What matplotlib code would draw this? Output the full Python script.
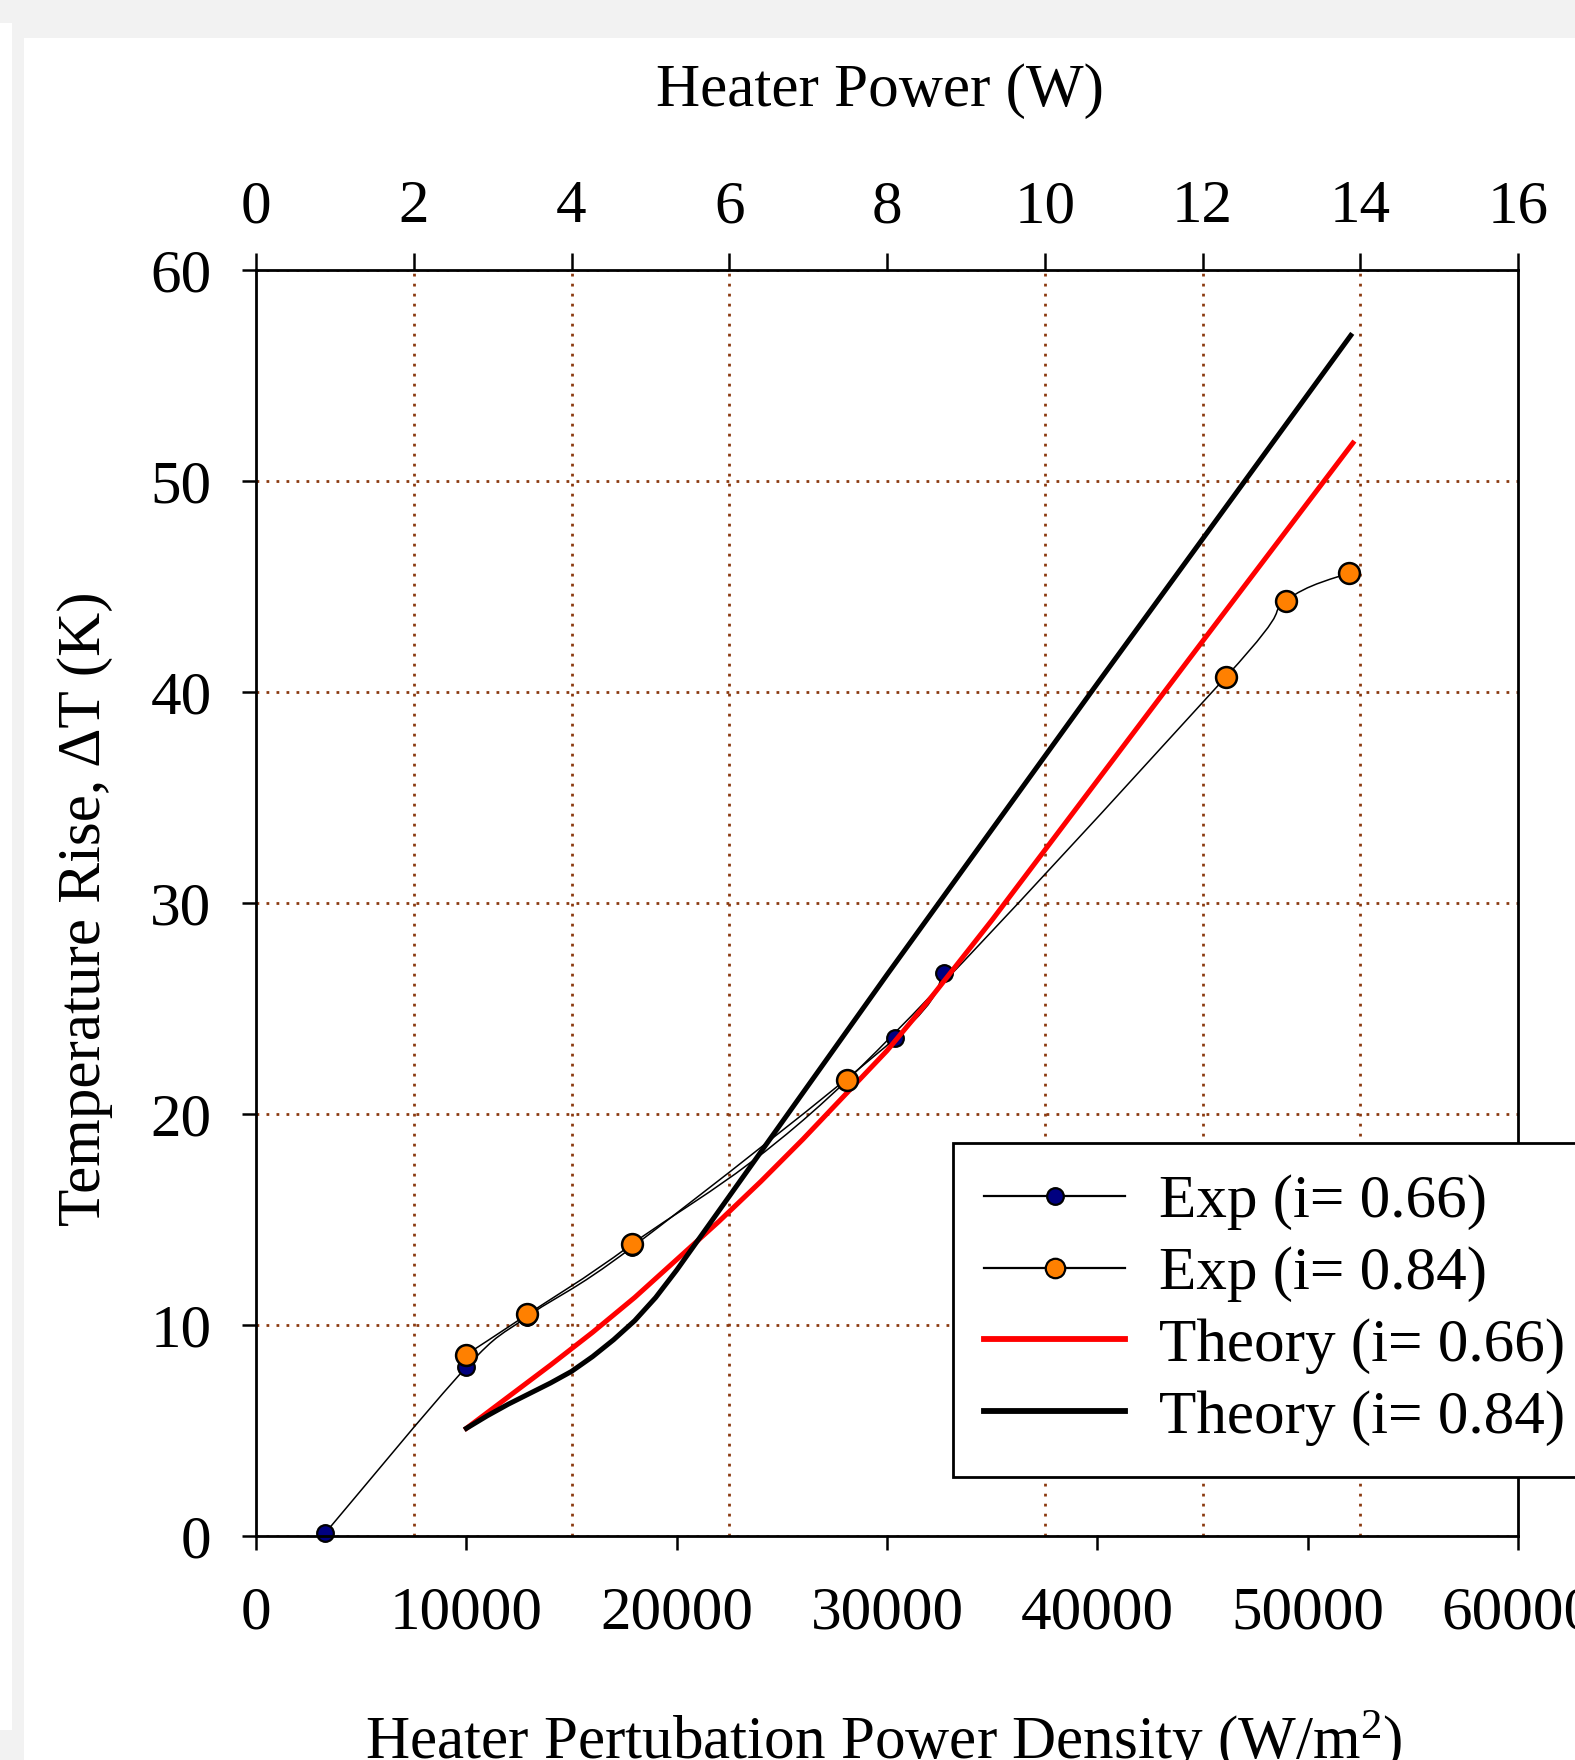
"""Temperature rise vs. heater perturbation power density."""

import numpy as np
import matplotlib
matplotlib.use("Agg")
import matplotlib.pyplot as plt
from matplotlib.lines import Line2D
from matplotlib.patches import PathPatch, Rectangle
from matplotlib.path import Path

# Experimental data, i = 0.66
exp066_q = [3300, 10000, 12900, 17900, 30400, 32700]
exp066_dt = [0.15, 8.0, 10.4, 13.7, 23.6, 26.7]

# Experimental data, i = 0.84
exp084_q = [10000, 12900, 17900, 28100, 46100, 48950, 51980]
exp084_dt = [8.6, 10.5, 13.85, 21.6, 40.7, 44.3, 45.65]

# Theory curves
theory066_q = [10000, 12000, 14000, 16000, 18000, 20000, 22000, 24000, 26000,
               28000, 30000, 32000, 35000, 40000, 45000, 52150]
theory066_dt = [5.1, 6.6, 8.1, 9.65, 11.3, 13.1, 14.9, 16.8, 18.8,
                20.9, 23.0, 25.4, 29.2, 35.8, 42.4, 51.8]

theory084_q = [10000, 11000, 12000, 13000, 14000, 15000, 16000, 17000, 18000,
               19000, 20000, 21000, 22000, 25000, 30000, 40000, 52050]
theory084_dt = [5.1, 5.7, 6.25, 6.75, 7.25, 7.8, 8.5, 9.3, 10.2,
                11.3, 12.6, 14.0, 15.4, 19.6, 26.6, 40.4, 56.9]

# Axis ticks
density_ticks = [0, 10000, 20000, 30000, 40000, 50000, 60000]
dt_ticks = [0, 10, 20, 30, 40, 50, 60]
power_ticks = [0, 2, 4, 6, 8, 10, 12, 14, 16]
density_per_watt = 60000 / 16

labels = ["Exp (i= 0.66)", "Exp (i= 0.84)", "Theory (i= 0.66)", "Theory (i= 0.84)"]

NAVY = "#000080"
ORANGE = "#FF8000"
GRID = "#8B3A10"


def smooth_path(xs, ys):
    """Catmull-Rom curve through the points, as cubic Bezier segments."""
    pts = np.column_stack([xs, ys]).astype(float)
    padded = np.vstack([pts[0], pts, pts[-1]])
    verts = [pts[0]]
    codes = [Path.MOVETO]
    for i in range(1, len(padded) - 2):
        p0, p1, p2, p3 = padded[i - 1], padded[i], padded[i + 1], padded[i + 2]
        verts += [p1 + (p2 - p0) / 6, p2 - (p3 - p1) / 6, p2]
        codes += [Path.CURVE4] * 3
    return Path(verts, codes)


plt.rcParams["font.family"] = ["Liberation Serif", "DejaVu Serif"]
plt.rcParams["mathtext.fontset"] = "custom"
plt.rcParams["mathtext.rm"] = "Liberation Serif"
plt.rcParams["mathtext.it"] = "Liberation Serif:italic"

fig = plt.figure(figsize=(15.75, 17.6), dpi=100)
fig.patch.set_facecolor("#f2f2f2")
# white page areas
fig.patches.append(Rectangle((24 / 1575, 0), 1, 1 - 38 / 1760, transform=fig.transFigure,
                             facecolor="white", edgecolor="none", zorder=-1))
fig.patches.append(Rectangle((0, 30 / 1760), 12 / 1575, 1 - 53 / 1760, transform=fig.transFigure,
                             facecolor="white", edgecolor="none", zorder=-1))

ax = fig.add_axes([256 / 1575, 1 - 1536 / 1760, (1518 - 256) / 1575, (1536 - 270) / 1760])
ax.set_xlim(0, 60000)
ax.set_ylim(0, 60)
ax.set_xticks(density_ticks)
ax.set_xticklabels([str(t) for t in density_ticks])
ax.set_yticks(dt_ticks)

# grid: vertical lines follow the top (power) ticks
ax.set_xticks([p * density_per_watt for p in power_ticks[1:-1]], minor=True)
ax.tick_params(which="minor", length=0)
ax.grid(which="minor", axis="x", color=GRID, linestyle=(0, (1, 2.6)), linewidth=2.0)
ax.grid(which="major", axis="y", color=GRID, linestyle=(0, (1, 2.6)), linewidth=2.0)
ax.set_axisbelow(True)

ax.tick_params(which="major", direction="out", length=10, width=1.8,
               labelsize=44, top=False, right=False)
ax.tick_params(axis="y", pad=22)
ax.tick_params(axis="x", pad=26)
for side in ["left", "bottom", "right"]:
    ax.spines[side].set_linewidth(2)
ax.spines["top"].set_visible(False)

# experimental series (smooth thin lines)
ax.add_patch(PathPatch(smooth_path(exp066_q, exp066_dt), facecolor="none",
                       edgecolor="black", linewidth=1.1, zorder=2))
ax.plot(exp066_q, exp066_dt, linestyle="none", marker="o", markersize=12,
        markerfacecolor=NAVY, markeredgecolor="black", markeredgewidth=1.6,
        zorder=2.5, clip_on=False)
ax.add_patch(PathPatch(smooth_path(exp084_q, exp084_dt), facecolor="none",
                       edgecolor="black", linewidth=1.1, zorder=2))

# theory curves
ax.plot(theory066_q, theory066_dt, color="red", linewidth=3.6, zorder=3)
ax.plot(theory084_q, theory084_dt, color="black", linewidth=3.6, zorder=3)

ax.plot(exp084_q, exp084_dt, linestyle="none", marker="o", markersize=15,
        markerfacecolor=ORANGE, markeredgecolor="black", markeredgewidth=1.8,
        zorder=4, clip_on=False)

# top axis in heater power
ax2 = ax.twiny()
ax2.set_xlim(0, 16)
ax2.set_xticks(power_ticks)
ax2.tick_params(direction="out", length=12, width=1.8, labelsize=44, pad=13)
for side in ["left", "bottom", "right"]:
    ax2.spines[side].set_visible(False)
ax2.spines["top"].set_linewidth(2)
ax2.patch.set_visible(False)

# legend
handles = [
    Line2D([], [], color="black", linewidth=1.6, marker="o", markersize=12,
           markerfacecolor=NAVY, markeredgecolor="black", markeredgewidth=1.6),
    Line2D([], [], color="black", linewidth=1.6, marker="o", markersize=14,
           markerfacecolor=ORANGE, markeredgecolor="black", markeredgewidth=1.6),
    Line2D([], [], color="red", linewidth=4.2),
    Line2D([], [], color="black", linewidth=4.2),
]
leg = ax.legend(handles, labels, loc="upper left", bbox_to_anchor=(0.552, 0.3106),
                borderaxespad=0, fontsize=44, frameon=True, fancybox=False,
                edgecolor="black", framealpha=1, handlelength=2.3,
                handletextpad=0.55, labelspacing=0.26, borderpad=0.52)
leg.get_frame().set_linewidth(2)
leg.set_zorder(5)

# axis titles
fig.text(880 / 1575, 1 - 91.5 / 1760, "Heater Power (W)", fontsize=44,
         ha="center", va="center")
fig.text(85 / 1575, 1 - 909 / 1760, "Temperature Rise, ΔT (K)", fontsize=44,
         rotation=90, ha="center", va="center")
fig.text(884 / 1575, 1 - 1758 / 1760, r"Heater Pertubation Power Density (W/m$^{2}$)",
         fontsize=44, ha="center", va="baseline")

fig.savefig("out.png", dpi=100)
plt.close(fig)
